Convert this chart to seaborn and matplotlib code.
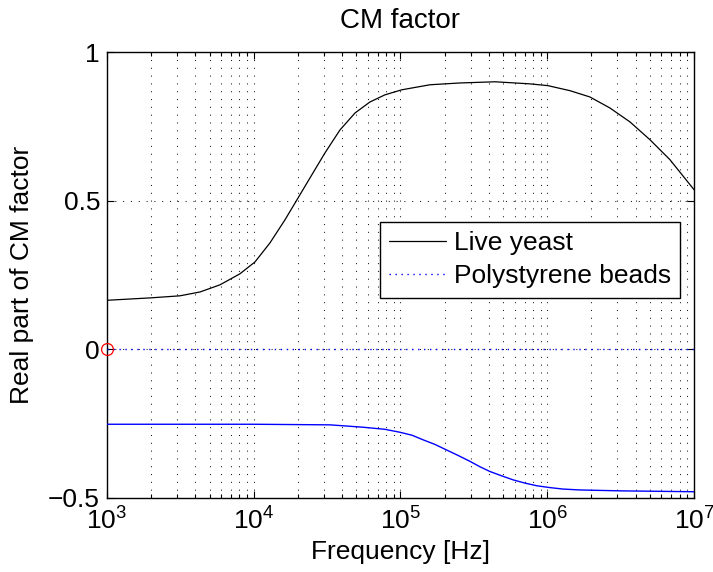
import matplotlib
matplotlib.use('Agg')
import matplotlib.pyplot as plt
import seaborn as sns
from matplotlib.ticker import LogLocator, FixedLocator, FixedFormatter, NullFormatter

sns.set_style('ticks')
plt.rcParams['font.family'] = ['Liberation Sans', 'DejaVu Sans']
plt.rcParams['mathtext.fontset'] = 'custom'
plt.rcParams['mathtext.rm'] = 'Liberation Sans'
plt.rcParams['mathtext.it'] = 'Liberation Sans:italic'
plt.rcParams['mathtext.bf'] = 'Liberation Sans:bold'
plt.rcParams['text.color'] = 'black'
plt.rcParams['axes.labelcolor'] = 'black'
plt.rcParams['xtick.color'] = 'black'
plt.rcParams['ytick.color'] = 'black'

# ---- data ----
yeast_freq = [1e3, 1.96e3, 3.14e3, 4.31e3, 5.89e3, 8.05e3, 1.02e4, 1.29e4, 1.63e4,
              1.97e4, 2.42e4, 3.06e4, 3.87e4, 4.90e4, 6.19e4, 7.83e4, 1.02e5,
              1.59e5, 2.54e5, 4.41e5, 7.62e5, 1.01e6, 1.43e6, 1.95e6, 2.67e6,
              3.66e6, 5.01e6, 6.85e6, 1e7]
yeast_cm = [0.165, 0.173, 0.180, 0.193, 0.217, 0.254, 0.294, 0.358, 0.435,
            0.503, 0.577, 0.661, 0.738, 0.795, 0.832, 0.856, 0.873,
            0.890, 0.896, 0.900, 0.893, 0.887, 0.870, 0.849, 0.812,
            0.765, 0.705, 0.638, 0.537]

blue_freq = [1e3, 1e4, 3.31e4, 5.56e4, 7.83e4, 9.93e4, 1.20e5, 1.42e5, 1.72e5,
             2.01e5, 2.47e5, 2.98e5, 3.48e5, 4.07e5, 4.92e5, 5.85e5, 7.05e5,
             8.51e5, 1.04e6, 1.28e6, 1.67e6, 3.13e6, 1e7]
blue_cm = [-0.252, -0.252, -0.254, -0.262, -0.269, -0.279, -0.289, -0.304, -0.320,
           -0.336, -0.357, -0.377, -0.395, -0.411, -0.426, -0.439, -0.450,
           -0.459, -0.465, -0.470, -0.473, -0.476, -0.479]

beads_freq = [1e3, 1e7]
beads_cm = [0.0, 0.0]

marker_freq = [1e3]
marker_cm = [0.0]

x_ticks = [1e3, 1e4, 1e5, 1e6, 1e7]
y_ticks = [-0.5, 0, 0.5, 1]
y_tick_labels = ['\u22120.5', '0', '0.5', '1']

title = 'CM factor'
x_label = 'Frequency [Hz]'
y_label = 'Real part of CM factor'

FS = 19

fig = plt.figure(figsize=(7.13, 5.72), dpi=100)
ax = fig.add_axes([0.150, 0.1294, 0.8234, 0.7796])

sns.lineplot(x=yeast_freq, y=yeast_cm, color='black', lw=0.9, ax=ax,
             label='Live yeast', zorder=3)
sns.lineplot(x=beads_freq, y=beads_cm, color='blue', lw=1.0, ax=ax,
             linestyle=(0, (1, 3.3)), label='Polystyrene beads', zorder=3)
sns.lineplot(x=blue_freq, y=blue_cm, color='blue', lw=1.0, ax=ax, zorder=3)
sns.lineplot(x=marker_freq, y=marker_cm, marker='o', ms=8.5, mfc='none', mec='red',
             mew=0.9, linestyle='none', ax=ax, clip_on=False, zorder=6)

ax.set_xscale('log')
ax.set_xlim(1e3, 1e7)
ax.set_ylim(-0.5, 1)
ax.xaxis.set_major_locator(FixedLocator(x_ticks))
ax.xaxis.set_minor_locator(LogLocator(base=10, subs=range(2, 10)))
ax.xaxis.set_minor_formatter(NullFormatter())
ax.yaxis.set_major_locator(FixedLocator(y_ticks))
ax.yaxis.set_major_formatter(FixedFormatter(y_tick_labels))

grid_kw = dict(linestyle=(0, (1, 6.5)), lw=0.75, color='0.1')
ax.grid(True, which='both', axis='x', **grid_kw)
ax.grid(True, which='major', axis='y', **grid_kw)
ax.set_axisbelow(True)

ax.tick_params(which='both', direction='in', top=True, right=True, colors='black',
               labelsize=FS, width=0.8)
ax.tick_params(which='major', length=5)
ax.tick_params(axis='x', which='major', pad=7)
ax.tick_params(axis='y', which='major', pad=5)
ax.tick_params(which='minor', length=3)
for s in ax.spines.values():
    s.set_visible(True)
    s.set_linewidth(1.0)
    s.set_color('black')

ax.set_title(title, fontsize=FS + 1, pad=17)
ax.set_xlabel(x_label, fontsize=FS, labelpad=4)
ax.set_ylabel(y_label, fontsize=FS, labelpad=10)

handles, labels = ax.get_legend_handles_labels()
leg = ax.legend(handles[:2], labels[:2], loc='upper right', bbox_to_anchor=(0.976, 0.619),
                borderaxespad=0, frameon=True, fancybox=False, edgecolor='black',
                framealpha=1, fontsize=FS, handlelength=2.15, borderpad=0.35,
                labelspacing=0.35, handletextpad=0.3)
leg.get_frame().set_linewidth(1.0)

fig.savefig('out.png', dpi=100)
